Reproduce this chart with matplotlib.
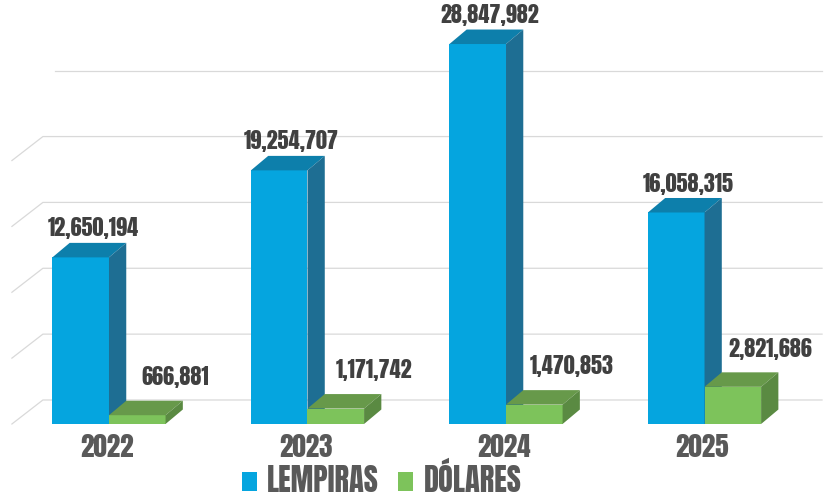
import numpy as np
import matplotlib
matplotlib.use('Agg')
import matplotlib.pyplot as plt
from matplotlib.patches import Polygon, Patch

years = ['2022', '2023', '2024', '2025']
lempiras = [12650194, 19254707, 28847982, 16058315]
dolares = [666881, 1171742, 1470853, 2821686]
series_names = ['LEMPIRAS', 'DÓLARES']
grid_vals = [0, 5e6, 10e6, 15e6, 20e6, 25e6]

plt.rcParams['font.family'] = ['Anton', 'DejaVu Sans']

fig = plt.figure(figsize=(8.28, 4.95), dpi=100)
ax = fig.add_axes([0, 0, 1, 1])
# x: one unit per year (198.5 px), y: value (13.17 px per million)
ax.set_xlim(-0.549, 3.622)
ax.set_ylim(-5.391e6, 32.19e6)
ax.axis('off')

bw = 0.285          # bar width
ddx, ddy = 0.0870, 1.10e6     # bar depth
wdx, wdy = 0.156, 1.822e6     # back wall depth
x_left, x_right = -0.489, 3.592 - wdx

# back wall gridlines
for k, g in enumerate(grid_vals):
    if k < len(grid_vals) - 1:
        ax.plot([x_left, x_left + wdx, x_right + wdx], [g, g + wdy, g + wdy],
                color='#d9d9d9', lw=0.9, zorder=1)
    else:
        ax.plot([x_left + wdx + 0.06, x_right + wdx], [g + wdy, g + wdy],
                color='#d9d9d9', lw=0.9, zorder=1)

def bar3d(x0, v, front, top, side, z):
    x1 = x0 + bw
    ax.add_patch(Polygon([(x0, 0), (x1, 0), (x1, v), (x0, v)], closed=True,
                         facecolor=front, edgecolor='none', zorder=z))
    ax.add_patch(Polygon([(x0, v), (x1, v), (x1 + ddx, v + ddy), (x0 + ddx, v + ddy)],
                         closed=True, facecolor=top, edgecolor='none', zorder=z))
    ax.add_patch(Polygon([(x1, 0), (x1 + ddx, ddy), (x1 + ddx, v + ddy), (x1, v)],
                         closed=True, facecolor=side, edgecolor='none', zorder=z))

x = np.arange(len(years))
for i in x:
    bar3d(i - bw, lempiras[i], '#05a5df', '#0d7fab', '#1e6e93', 2 + 2 * i)
    bar3d(i, dolares[i], '#7dc35b', '#67994a', '#5a8a42', 3 + 2 * i)
    ax.text(i - bw / 2 + 0.062, lempiras[i] + ddy + 1.1e6, f'{lempiras[i]:,}',
            ha='center', va='center', fontsize=16, color='#404040', zorder=20)
    ax.text(i + bw / 2 + 0.19, dolares[i] + ddy + 1.8e6, f'{dolares[i]:,}',
            ha='center', va='center', fontsize=16, color='#404040', zorder=20)
    ax.text(i - 0.01, -1.75e6, years[i], ha='center', va='center',
            fontsize=19.5, color='#595959')

handles = [Patch(facecolor='#05a5df', label=series_names[0]),
           Patch(facecolor='#7dc35b', label=series_names[1])]
leg = fig.legend(handles=handles, loc='center', bbox_to_anchor=(0.461, 0.032),
                 ncol=2, frameon=False, fontsize=22, handlelength=0.5,
                 handleheight=0.6, handletextpad=0.33, columnspacing=0.62)
for t in leg.get_texts():
    t.set_color('#595959')

fig.savefig('out.png', dpi=100)
